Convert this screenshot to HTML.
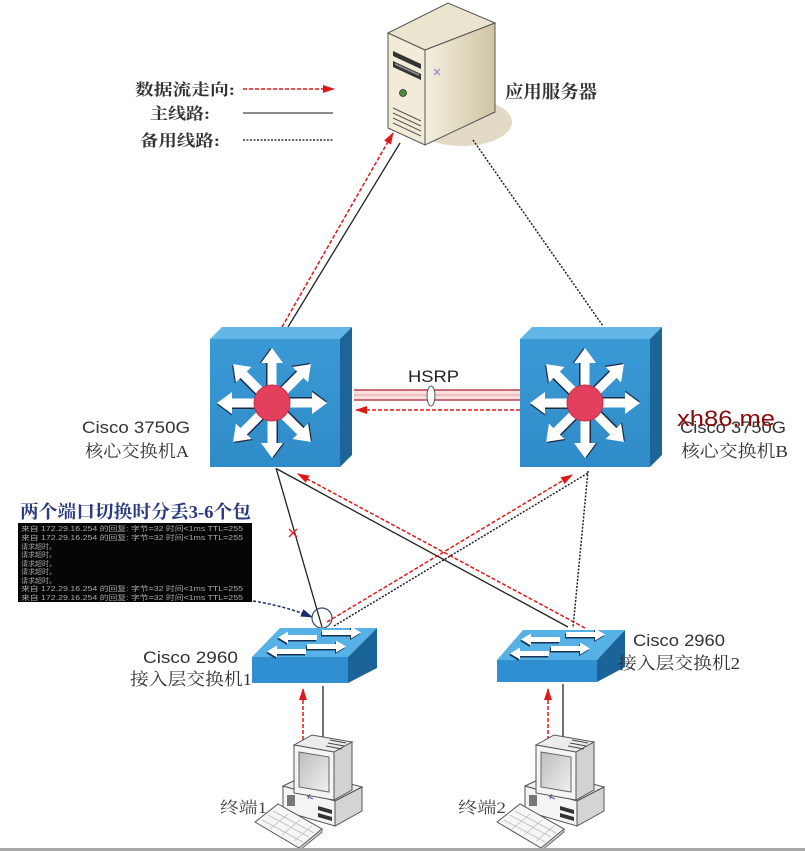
<!DOCTYPE html>
<html><head><meta charset="utf-8"><style>
html,body{margin:0;padding:0;background:#fff;}
svg{display:block;}
.cj{font-family:"Liberation Serif","Noto Serif CJK SC",serif;}
.sa{font-family:"Liberation Sans","Noto Sans CJK SC",sans-serif;}
</style></head><body>
<svg width="805" height="851" viewBox="0 0 805 851" xmlns="http://www.w3.org/2000/svg">
<defs>
<marker id="ra" viewBox="0 0 12 8" refX="11" refY="4" markerWidth="12" markerHeight="8" markerUnits="userSpaceOnUse" orient="auto"><path d="M0,0 L12,4 L0,8 z" fill="#e01818"/></marker>
<marker id="ba" viewBox="0 0 12 8" refX="11" refY="4" markerWidth="12" markerHeight="9" markerUnits="userSpaceOnUse" orient="auto"><path d="M0,0 L12,4 L0,8 z" fill="#1a2a6a"/></marker>
<linearGradient id="srvSide" x1="0" y1="0" x2="1" y2="0"><stop offset="0" stop-color="#f4efdf"/><stop offset="1" stop-color="#cfc4a2"/></linearGradient>
<linearGradient id="coreF" x1="0" y1="0" x2="0" y2="1"><stop offset="0" stop-color="#3a9ad6"/><stop offset="1" stop-color="#2f8bc8"/></linearGradient>
<linearGradient id="scr" x1="0" y1="0" x2="1" y2="1"><stop offset="0" stop-color="#bdbdbd"/><stop offset="1" stop-color="#f0f0f0"/></linearGradient>
<g id="arr">
<polygon points="-6,-14 -6,-40 -12.5,-40 -1.5,-55 9.5,-40 3,-40 3,-14" fill="#1b2c44"/>
<polygon points="-4.5,-14 -4.5,-40 -11,-40 0,-55 11,-40 4.5,-40 4.5,-14" fill="#fff"/>
</g>
<g id="star">
<use href="#arr"/>
<use href="#arr" transform="rotate(45)"/>
<use href="#arr" transform="rotate(90)"/>
<use href="#arr" transform="rotate(135)"/>
<use href="#arr" transform="rotate(180)"/>
<use href="#arr" transform="rotate(225)"/>
<use href="#arr" transform="rotate(270)"/>
<use href="#arr" transform="rotate(315)"/>
<circle r="18" fill="#e2405c" stroke="#c8304a" stroke-width="1"/>
</g>
<g id="sarrR">
<polygon points="-1,0.5 28,0.5 28,-3 38,3 28,9 28,5.5 -1,5.5" fill="#173552"/>
<polygon points="0,-1 29,-1 29,-4.5 39,1.5 29,7.5 29,4 0,4" fill="#fff"/>
</g>
<g id="sarrL">
<polygon points="39,0.5 10,0.5 10,-3 0,3 10,9 10,5.5 39,5.5" fill="#173552"/>
<polygon points="40,-1 11,-1 11,-4.5 1,1.5 11,7.5 11,4 40,4" fill="#fff"/>
</g>
<g id="pc">
<!-- base -->
<polygon points="283,786 310,773 362,787 335,801" fill="#efefef" stroke="#555" stroke-width="1"/>
<polygon points="283,786 335,801 335,826 283,811" fill="#f4f4f4" stroke="#555" stroke-width="1"/>
<polygon points="335,801 362,787 362,811 335,826" fill="#d4d4d4" stroke="#555" stroke-width="1"/>
<rect x="287" y="795" width="8" height="11" fill="#777"/>
<polygon points="318,806 332,810 332,814 318,810" fill="#333"/>
<polygon points="318,813 332,817 332,821 318,817" fill="#333"/>
<!-- monitor -->
<polygon points="294,745 312,735 352,742 334,752" fill="#ececec" stroke="#555" stroke-width="1"/>
<polygon points="334,752 352,742 352,790 334,800" fill="#d2d2d2" stroke="#555" stroke-width="1"/>
<polygon points="294,745 334,752 334,800 294,793" fill="#f4f4f4" stroke="#555" stroke-width="1"/>
<polygon points="299,752 329,757 329,792 299,787" fill="url(#scr)" stroke="#666" stroke-width="1"/>
<line x1="330" y1="740" x2="346" y2="743" stroke="#444" stroke-width="1"/>
<line x1="328" y1="743" x2="344" y2="746" stroke="#444" stroke-width="1"/>
<line x1="326" y1="746" x2="342" y2="749" stroke="#444" stroke-width="1"/>
<path d="M307,796 l6,3 M310,794 l-2,5" stroke="#5a5aa0" stroke-width="1"/>
<!-- keyboard -->
<polygon points="255,822 278,804 322,829 299,848" fill="#f6f6f6" stroke="#555" stroke-width="1"/>
<polygon points="299,848 322,829 322,832 299,851" fill="#ccc" stroke="#555" stroke-width="0.8"/>
<path d="M262,820 l41,22 M268,815 l41,22 M273,811 l41,22 M267,816 l0,0 M270,829 l18,-15 M282,835 l18,-15 M294,841 l18,-15" stroke="#bbb" stroke-width="0.8"/>
</g>
</defs>

<!-- Legend -->
<text class="cj" x="135" y="95" font-size="16" font-weight="bold" fill="#333" textLength="100" lengthAdjust="spacingAndGlyphs">数据流走向:</text>
<line x1="243" y1="89" x2="334" y2="89" stroke="#e01818" stroke-width="1.6" stroke-dasharray="4,2" marker-end="url(#ra)"/>
<text class="cj" x="150" y="119" font-size="16" font-weight="bold" fill="#333" textLength="60" lengthAdjust="spacingAndGlyphs">主线路:</text>
<line x1="243" y1="113" x2="333" y2="113" stroke="#666" stroke-width="1.6"/>
<text class="cj" x="140" y="146" font-size="16" font-weight="bold" fill="#333" textLength="80" lengthAdjust="spacingAndGlyphs">备用线路:</text>
<line x1="243" y1="140" x2="333" y2="140" stroke="#333" stroke-width="1.6" stroke-dasharray="2,1.5"/>

<!-- Server -->
<ellipse cx="462" cy="122" rx="50" ry="24" fill="#e2dac4"/>
<polygon points="388,33 448,3 495,23 425,50" fill="#ebe5cf" stroke="#555" stroke-width="1"/>
<polygon points="425,50 495,23 495,112 425,145" fill="url(#srvSide)" stroke="#555" stroke-width="1"/>
<polygon points="388,33 425,50 425,145 388,128" fill="#f1ebd8" stroke="#555" stroke-width="1"/>
<polygon points="393,51 421,64 421,69 393,56" fill="#333"/>
<polygon points="393,61 421,74 421,80 393,67" fill="#333"/>
<polygon points="395,63 419,74 419,76 395,65" fill="#888"/>
<circle cx="403" cy="93" r="3.5" fill="#4a8a3a" stroke="#333" stroke-width="0.8"/>
<path d="M393,108 L421,121 M393,113 L421,126 M393,118 L421,131 M393,123 L421,136" stroke="#555" stroke-width="1"/>
<path d="M434,69 l6,6 M440,69 l-6,6" stroke="#8a7ad0" stroke-width="1"/>
<text class="cj" x="505" y="98" font-size="18" font-weight="bold" fill="#333" textLength="92" lengthAdjust="spacingAndGlyphs">应用服务器</text>

<!-- Server links -->
<line x1="282" y1="327" x2="393" y2="133" stroke="#e01818" stroke-width="1.5" stroke-dasharray="4,2" marker-end="url(#ra)"/>
<line x1="288" y1="327" x2="400" y2="143" stroke="#222" stroke-width="1.3"/>
<line x1="473" y1="140" x2="603" y2="326" stroke="#222" stroke-width="1.5" stroke-dasharray="2,1.5"/>

<!-- Core switch A -->
<polygon points="210,339 222,327 352,327 340,339" fill="#63b7e8"/>
<polygon points="340,339 352,327 352,455 340,467" fill="#1e6597"/>
<rect x="210" y="339" width="130" height="128" fill="url(#coreF)"/>
<use href="#star" transform="translate(272,403)"/>

<!-- Core switch B -->
<polygon points="520,339 532,327 662,327 650,339" fill="#63b7e8"/>
<polygon points="650,339 662,327 662,455 650,467" fill="#1e6597"/>
<rect x="520" y="339" width="130" height="128" fill="url(#coreF)"/>
<use href="#star" transform="translate(585,403)"/>

<!-- HSRP -->
<rect x="354" y="390" width="166" height="10" fill="#f9dede"/>
<line x1="354" y1="390" x2="520" y2="390" stroke="#b8404c" stroke-width="1.4"/>
<line x1="354" y1="395" x2="520" y2="395" stroke="#e5a0a8" stroke-width="1"/>
<line x1="354" y1="400" x2="520" y2="400" stroke="#b8404c" stroke-width="1.4"/>
<ellipse cx="431" cy="396" rx="4" ry="10" fill="#fff" stroke="#555" stroke-width="1"/>
<line x1="520" y1="410" x2="356" y2="410" stroke="#e01818" stroke-width="1.6" stroke-dasharray="4,2" marker-end="url(#ra)"/>
<text class="sa" x="408" y="382" font-size="17" fill="#222" textLength="51" lengthAdjust="spacingAndGlyphs">HSRP</text>

<!-- Core labels -->
<text class="sa" x="82" y="433" font-size="17" fill="#333" textLength="108" lengthAdjust="spacingAndGlyphs">Cisco 3750G</text>
<text class="cj" x="85" y="457" font-size="17" fill="#333" textLength="104" lengthAdjust="spacingAndGlyphs">核心交换机A</text>
<text class="sa" x="680" y="433" font-size="17" fill="#333" textLength="106" lengthAdjust="spacingAndGlyphs">Cisco 3750G</text>
<text class="cj" x="681" y="457" font-size="17" fill="#333" textLength="107" lengthAdjust="spacingAndGlyphs">核心交换机B</text>
<text class="sa" x="677" y="426" font-size="22" fill="#8b0a0a" textLength="98" lengthAdjust="spacingAndGlyphs">xh86.me</text>

<!-- Cross links -->
<line x1="276" y1="468" x2="322" y2="627" stroke="#222" stroke-width="1.3"/>
<path d="M289,529 l8,8 M297,529 l-8,8" stroke="#e02020" stroke-width="1.3"/>
<line x1="277" y1="469" x2="568" y2="627" stroke="#222" stroke-width="1.3"/>
<line x1="585" y1="628" x2="298" y2="474" stroke="#e01818" stroke-width="1.5" stroke-dasharray="4,2" marker-end="url(#ra)"/>
<line x1="327" y1="622" x2="572" y2="475" stroke="#e01818" stroke-width="1.5" stroke-dasharray="4,2" marker-end="url(#ra)"/>
<line x1="334" y1="626" x2="588" y2="473" stroke="#222" stroke-width="1.5" stroke-dasharray="2,1.5"/>
<line x1="588" y1="471" x2="573" y2="628" stroke="#222" stroke-width="1.5" stroke-dasharray="2,1.5"/>

<!-- Ping box -->
<text class="cj" x="20" y="518" font-size="18" font-weight="bold" fill="#2a3a80" textLength="231" lengthAdjust="spacingAndGlyphs">两个端口切换时分丢3-6个包</text>
<rect x="18" y="523" width="234" height="79" fill="#050505"/>
<g class="sa" font-size="7" fill="#a8a8a8">
<text x="21" y="531" textLength="222" lengthAdjust="spacingAndGlyphs">来自 172.29.16.254 的回复: 字节=32 时间&lt;1ms TTL=255</text>
<text x="21" y="540" textLength="222" lengthAdjust="spacingAndGlyphs">来自 172.29.16.254 的回复: 字节=32 时间&lt;1ms TTL=255</text>
<text x="21" y="549">请求超时。</text>
<text x="21" y="557">请求超时。</text>
<text x="21" y="566">请求超时。</text>
<text x="21" y="574">请求超时。</text>
<text x="21" y="583">请求超时。</text>
<text x="21" y="591" textLength="222" lengthAdjust="spacingAndGlyphs">来自 172.29.16.254 的回复: 字节=32 时间&lt;1ms TTL=255</text>
<text x="21" y="600" textLength="222" lengthAdjust="spacingAndGlyphs">来自 172.29.16.254 的回复: 字节=32 时间&lt;1ms TTL=255</text>
</g>
<path d="M253,601 Q285,606 312,617" fill="none" stroke="#1a2a6a" stroke-width="1.5" stroke-dasharray="3,2" marker-end="url(#ba)"/>
<circle cx="322" cy="618" r="10" fill="none" stroke="#3a4a6a" stroke-width="1.2"/>

<!-- Access switch 1 -->
<polygon points="252,657 280,628 377,628 348,657" fill="#55b1e6"/>
<polygon points="348,657 377,628 377,668 348,683" fill="#1b649a"/>
<rect x="252" y="657" width="96" height="26" fill="#2f8fd0"/>
<use href="#sarrL" transform="translate(277,636)"/>
<use href="#sarrR" transform="translate(322,631)"/>
<use href="#sarrL" transform="translate(266,650)"/>
<use href="#sarrR" transform="translate(307,645)"/>
<text class="sa" x="143" y="663" font-size="17" fill="#333" textLength="95" lengthAdjust="spacingAndGlyphs">Cisco 2960</text>
<text class="cj" x="130" y="685" font-size="17" fill="#333" textLength="122" lengthAdjust="spacingAndGlyphs">接入层交换机1</text>

<!-- Access switch 2 -->
<polygon points="497,660 523,630 625,630 597,660" fill="#55b1e6"/>
<polygon points="597,660 625,630 625,667 597,682" fill="#1b649a"/>
<rect x="497" y="660" width="100" height="22" fill="#2f8fd0"/>
<use href="#sarrL" transform="translate(520,638)"/>
<use href="#sarrR" transform="translate(566,633)"/>
<use href="#sarrL" transform="translate(509,652)"/>
<use href="#sarrR" transform="translate(551,647)"/>
<text class="sa" x="633" y="646" font-size="17" fill="#333" textLength="92" lengthAdjust="spacingAndGlyphs">Cisco 2960</text>
<text class="cj" x="618" y="669" font-size="17" fill="#333" textLength="122" lengthAdjust="spacingAndGlyphs">接入层交换机2</text>

<!-- Terminal links -->
<line x1="303" y1="740" x2="303" y2="689" stroke="#e01818" stroke-width="1.5" stroke-dasharray="4,2" marker-end="url(#ra)"/>
<line x1="323" y1="686" x2="323" y2="740" stroke="#333" stroke-width="1.4"/>
<line x1="548" y1="740" x2="548" y2="689" stroke="#e01818" stroke-width="1.5" stroke-dasharray="4,2" marker-end="url(#ra)"/>
<line x1="563" y1="684" x2="563" y2="740" stroke="#333" stroke-width="1.4"/>

<!-- Terminals -->
<use href="#pc"/>
<use href="#pc" transform="translate(242,0)"/>
<text class="cj" x="220" y="813" font-size="16" fill="#444" textLength="47" lengthAdjust="spacingAndGlyphs">终端1</text>
<text class="cj" x="458" y="813" font-size="16" fill="#444" textLength="48" lengthAdjust="spacingAndGlyphs">终端2</text>

<!-- bottom border -->
<rect x="0" y="848" width="805" height="3" fill="#a8a8a8"/>
</svg>
</body></html>
